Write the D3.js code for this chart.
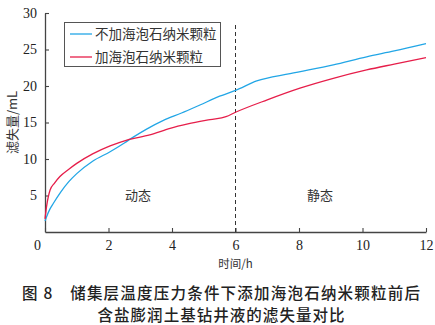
<!DOCTYPE html>
<html><head><meta charset="utf-8">
<script src="https://cdn.jsdelivr.net/npm/d3@7"></script>
<style>
html,body{margin:0;padding:0;background:#fff;}
svg{display:block;}
</style></head>
<body>
<svg id="chart" width="435" height="325"></svg>
<script>
// Filtrate loss over time, with and without sepiolite nanoparticles
const timeBlue = [0, 0.05, 0.15, 0.26, 0.5, 0.75, 1.0, 1.5, 2.05, 2.5, 2.78, 3.2, 3.73, 4.3, 4.88, 5.5, 6.0, 6.67, 7.72, 9.08, 10.13, 11, 12];
const lossBlue = [1.5, 2.1, 3.1, 3.9, 5.5, 6.9, 8.0, 9.7, 11.0, 12.2, 13.0, 14.1, 15.3, 16.3, 17.4, 18.6, 19.4, 20.7, 21.7, 22.9, 24.0, 24.8, 25.8];
const timeRed = [0, 0.05, 0.16, 0.3, 0.47, 0.75, 1.0, 1.5, 2.05, 2.58, 3.3, 3.94, 4.5, 5.2, 5.7, 6.0, 7.0, 8.03, 9.08, 10.13, 11, 12];
const lossRed = [1.8, 3.5, 5.75, 6.7, 7.6, 8.6, 9.4, 10.7, 11.8, 12.6, 13.3, 14.2, 14.8, 15.4, 15.8, 16.4, 18.1, 19.7, 21.05, 22.2, 23.0, 23.9];
const seriesNames = ["不加海泡石纳米颗粒", "加海泡石纳米颗粒"];
const xTicks = [0, 2, 4, 6, 8, 10, 12];
const yTicks = [0, 5, 10, 15, 20, 25, 30];
const stageLabels = ["动态", "静态"];
const stageX = [2.93, 8.66];
const switchTime = 6;
const captionLines = ["图 8　储集层温度压力条件下添加海泡石纳米颗粒前后", "含盐膨润土基钻井液的滤失量对比"];
const captionWidths = [398, 247];

const colors = ["#22a6e6", "#e61e4a"];
const serif = "'Liberation Serif','DejaVu Serif',serif";
const cjk = "'Noto Sans CJK SC','Noto Sans',sans-serif";

const svg = d3.select("#chart");
const plotLeft = 45, plotRight = 426, plotTop = 13, plotBottom = 232;
const x = d3.scaleLinear().domain([0, 12]).range([plotLeft, plotRight]);
const y = d3.scaleLinear().domain([0, 30]).range([plotBottom, plotTop]);

// axes with inward ticks
const xAxis = svg.append("g").attr("transform", `translate(0,${plotBottom})`)
  .call(d3.axisBottom(x).tickValues(xTicks).tickSizeInner(-4).tickSizeOuter(0).tickPadding(8));
const yAxis = svg.append("g").attr("transform", `translate(${plotLeft},0)`)
  .call(d3.axisLeft(y).tickValues(yTicks.filter(d => d > 0)).tickSizeInner(-4).tickSizeOuter(0).tickPadding(8));
[xAxis, yAxis].forEach(g => {
  g.selectAll("path").attr("stroke", "#444").attr("stroke-width", 1.3);
  g.selectAll("line").attr("stroke", "#444").attr("stroke-width", 1.1);
  g.selectAll("text").attr("font-family", serif).attr("font-size", 14).attr("fill", "#222");
});
// shared origin label sits left of the corner
xAxis.selectAll(".tick").filter(d => d === 0).select("text").attr("dx", -8);

// stage divider
svg.append("line").attr("x1", x(switchTime)).attr("x2", x(switchTime))
  .attr("y1", 25).attr("y2", plotBottom)
  .attr("stroke", "#333").attr("stroke-width", 1).attr("stroke-dasharray", "4,3");

// curves
const line = d3.line().x(d => x(d[0])).y(d => y(d[1])).curve(d3.curveMonotoneX);
const series = [d3.zip(timeBlue, lossBlue), d3.zip(timeRed, lossRed)];
series.forEach((s, i) => {
  svg.append("path").datum(s).attr("d", line)
    .attr("fill", "none").attr("stroke", colors[i]).attr("stroke-width", 1.3);
});

// stage labels
stageLabels.forEach((t, i) => {
  svg.append("text").attr("x", x(stageX[i])).attr("y", y(4.4))
    .attr("text-anchor", "middle").attr("font-family", cjk).attr("font-size", 13).attr("fill", "#333").text(t);
});

// axis titles
svg.append("text").attr("x", x(6)).attr("y", 268).attr("text-anchor", "middle")
  .attr("font-family", cjk).attr("font-size", 11.5).attr("fill", "#333").text("时间/h");
svg.append("text").attr("transform", `translate(17,${y(15)}) rotate(-90)`).attr("text-anchor", "middle")
  .attr("font-family", cjk).attr("font-size", 13).attr("fill", "#333").text("滤失量/mL");

// legend
const lg = svg.append("g");
lg.append("rect").attr("x", 64.5).attr("y", 22.5).attr("width", 156).attr("height", 44)
  .attr("fill", "#fff").attr("stroke", "#555").attr("stroke-width", 1);
seriesNames.forEach((n, i) => {
  const yy = 34 + i * 23;
  lg.append("line").attr("x1", 70).attr("x2", 92).attr("y1", yy).attr("y2", yy)
    .attr("stroke", colors[i]).attr("stroke-width", 1.3);
  lg.append("text").attr("x", 95).attr("y", yy + 5).attr("font-family", cjk).attr("font-size", 13.5)
    .attr("fill", "#333").text(n);
});

// caption
captionLines.forEach((t, i) => {
  svg.append("text").attr("x", 221).attr("y", 299 + i * 22).attr("text-anchor", "middle")
    .attr("textLength", captionWidths[i]).attr("lengthAdjust", "spacing")
    .attr("font-family", cjk).attr("font-size", 15.5).attr("font-weight", 500).attr("fill", "#222").text(t);
});
</script>
</body></html>
